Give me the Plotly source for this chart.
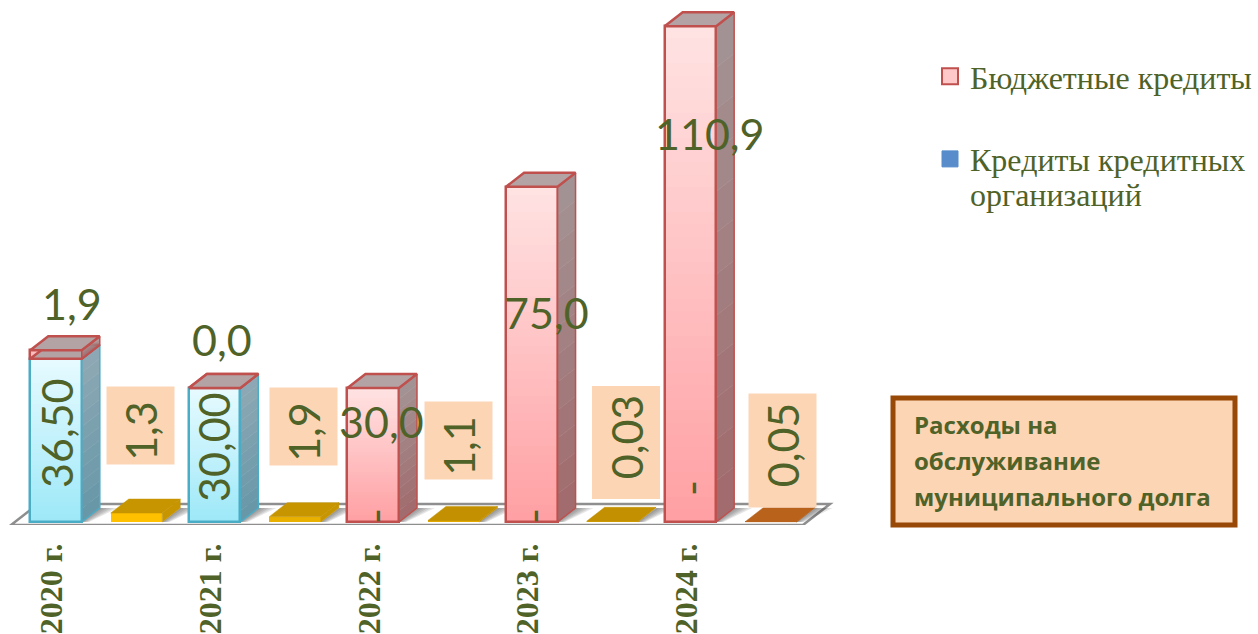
import plotly.graph_objects as go

# ---------- data ----------
years = ["2020 г.", "2021 г.", "2022 г.", "2023 г.", "2024 г."]
bank_credits = [36.5, 30.0, 0, 0, 0]
budget_credits = [1.9, 0.0, 30.0, 75.0, 110.9]
bank_labels = ["36,50", "30,00", "-", "-", "-"]
budget_labels = ["1,9", "0,0", "30,0", "75,0", "110,9"]
# debt service: heights as drawn in the picture, and the printed labels
service_drawn = [2.0, 1.2, 0.35, 0.15, 0.05]
service_labels = ["1,3", "1,9", "1,1", "0,03", "0,05"]

W, H = 1258, 634
PLOT_H = 525
X0, XS = 56.0, 158.6      # px of the first category, px per category
Y0, YS = 522.0, 4.47      # px of value 0, px per unit
BAR_W = 51.5 / XS
SVC_OFF = 80.5 / XS
DX, DY = 18 / XS, 14 / YS
TEXT = "#4f6228"
N = 40


def lerp(a, b, t):
    return "#%02x%02x%02x" % tuple(round(a[i] + (b[i] - a[i]) * t) for i in range(3))


def hx(s):
    return tuple(int(s[i:i + 2], 16) for i in (1, 3, 5))


def px(p):
    return p / W


def py(p):
    return 1 - p / PLOT_H


PINK = (hx("#ffe2e2"), hx("#ff9fa2"))
PINK_THIN = (hx("#ffc4c4"), hx("#ffb4b4"))
BLUE = (hx("#e6faff"), hx("#9ce8f8"))
PINK_SIDE = (hx("#a39495"), hx("#a26a6c"))
BLUE_SIDE = (hx("#8fa9b4"), hx("#6697a8"))
RED_LINE, BLUE_LINE = "#c0504d", "#4bacc6"

fig = go.Figure()
shapes = []

# floor with soft bar shadows
fx0, fx1 = (11 - X0) / XS, (803 - X0) / XS
fy = (Y0 - 525) / YS
fdx, fdy = 27 / XS, 21 / YS
shapes.append(dict(type="path", layer="below", xref="x", yref="y",
                   path=f"M{fx0},{fy} L{fx1},{fy} L{fx1 + fdx},{fy + fdy} L{fx0 + fdx},{fy + fdy} Z",
                   fillcolor="#ffffff", line=dict(color="#8e8e8e", width=2.5)))


def add_shadow(xr):
    for k in range(1, 6):
        s = k * 3.6 / XS
        shapes.append(dict(type="path", layer="below", xref="x", yref="y",
                           path=f"M{xr},0 L{xr + DX},{DY} L{xr + DX + s},{DY} L{xr + s * 0.4},0 Z",
                           fillcolor="rgba(60,60,60,0.13)", line=dict(width=0)))


def poly(xs, ys, fill, line=None, lw=0):
    fig.add_trace(go.Scatter(x=xs, y=ys, mode="lines", fill="toself", fillcolor=fill,
                             line=dict(color=line or fill, width=lw if line else 0.5),
                             showlegend=False, hoverinfo="skip"))


def box3d(xc, b0, b1, grad, side, edge, top_fill):
    """front gradient slices, outline, side gradient and top face for one block"""
    if b1 - b0 <= 0:
        return
    xl, xr = xc - BAR_W / 2, xc + BAR_W / 2
    slices_x, slices_y, slices_b, cols = [], [], [], []
    for k in range(N):
        t = k / N
        h = (b1 - b0) / N
        slices_x.append(xc)
        slices_y.append(h * 1.02)
        slices_b.append(b1 - h * (k + 1))
        cols.append(lerp(grad[0], grad[1], t))
    fig.add_trace(go.Bar(x=slices_x, y=slices_y, base=slices_b, width=BAR_W,
                         marker=dict(color=cols, line=dict(width=0)),
                         showlegend=False, hoverinfo="skip"))
    fig.add_trace(go.Bar(x=[xc], y=[b1 - b0], base=[b0], width=BAR_W,
                         marker=dict(color="rgba(0,0,0,0)", line=dict(color=edge, width=2.5)),
                         showlegend=False, hoverinfo="skip"))
    for k in range(12):
        a = b1 - (b1 - b0) * k / 12
        c = b1 - (b1 - b0) * (k + 1) / 12
        poly([xr, xr + DX, xr + DX, xr, xr], [a, a + DY, c + DY, c, a], lerp(side[0], side[1], (k + 0.5) / 12))
    poly([xr, xr + DX, xr + DX, xr, xr], [b1, b1 + DY, b0 + DY, b0, b1], "rgba(0,0,0,0)", edge, 1.5)
    poly([xl, xl + DX, xr + DX, xr, xl], [b1, b1 + DY, b1 + DY, b1, b1], top_fill, RED_LINE, 2.5)


for i in range(len(years)):
    add_shadow(i + BAR_W / 2)
    add_shadow(i + SVC_OFF + BAR_W / 2)
    box3d(i, 0, bank_credits[i], BLUE, BLUE_SIDE, BLUE_LINE, "#b3a3a5")
    box3d(i, bank_credits[i], bank_credits[i] + budget_credits[i],
          PINK_THIN if bank_credits[i] else PINK, PINK_SIDE, RED_LINE, "#b3a3a5")
    if bank_credits[i] and not budget_credits[i]:
        xl, xr = i - BAR_W / 2, i + BAR_W / 2
        t = bank_credits[i]
        poly([xl, xl + DX, xr + DX, xr, xl], [t, t + DY, t + DY, t, t], "#b3a3a5", RED_LINE, 2.5)

# debt-service plates
svc_front = ["#ffc000", "#e9b000", "#e0a800", "#dca400", "#c06a20"]
svc_top = ["#c79500", "#c79500", "#c29000", "#c29000", "#b8621c"]
for i, v in enumerate(service_drawn):
    xc = i + SVC_OFF
    xl, xr = xc - BAR_W / 2, xc + BAR_W / 2
    fig.add_trace(go.Bar(x=[xc], y=[v], base=[0], width=BAR_W,
                         marker=dict(color=svc_front[i], line=dict(width=0)),
                         showlegend=False, hoverinfo="skip"))
    poly([xr, xr + DX, xr + DX, xr, xr], [v, v + DY, DY, 0, v], svc_top[i])
    poly([xl, xl + DX, xr + DX, xr, xl], [v, v + DY, v + DY, v, v], svc_top[i])

# legend entries
fig.add_trace(go.Scatter(x=[None], y=[None], mode="markers", name="Бюджетные кредиты",
                         marker=dict(symbol="square", size=16, color="#ffc9c9",
                                     line=dict(color=RED_LINE, width=2)), legendgroup="a"))
fig.add_trace(go.Scatter(x=[None], y=[None], mode="markers", name="Кредиты кредитных",
                         marker=dict(symbol="square", size=16, color="#588ccb",
                                     line=dict(color="#588ccb", width=1)), legendgroup="b"))

# annotations
ann = []


def label(text, x, y, angle=0, **kw):
    ann.append(dict(text=text, x=px(x), y=py(y), xref="paper", yref="paper", showarrow=False,
                    xanchor="center", yanchor="middle", textangle=angle,
                    font=dict(family="Lato", size=43, color=TEXT), **kw))


for t, p in zip(budget_labels, [(72, 303), (222, 339), (382, 421), (546, 312), (710, 133)]):
    label(t, *p)
for t, p in zip(bank_labels, [(56, 433), (213, 447), (374, 516), (532, 516), (690, 488)]):
    label(t, *p, angle=-90)
for t, p, ln, pad in zip(service_labels,
                         [(140.5, 425.5), (303.5, 426.5), (458.5, 440.5), (625.5, 443), (782.5, 450.5)],
                         [77, 77, 77, 112, 113],
                         ["down", "down", "down", "up", "up"]):
    # the text reads upwards, so a leading space lifts it and a trailing one lowers it
    shown = "\u00a0" + t if pad == "up" else t + "\u00a0"
    label(shown, *p, angle=-90, bgcolor="#fcd5b5", width=ln, height=67, borderpad=0, align="center")

# second line of the legend entry "Кредиты кредитных / организаций"
ann.append(dict(text="организаций", x=px(968), y=py(195), xref="paper", yref="paper", showarrow=False,
                xanchor="left", yanchor="middle",
                font=dict(family="Liberation Serif", size=32, color=TEXT)))

shapes.append(dict(type="rect", xref="paper", yref="paper", x0=px(893), x1=px(1235), y0=py(525), y1=py(398),
                   fillcolor="#fcd5b5", line=dict(color="#984807", width=5)))
for t, y in zip(["Расходы на", "обслуживание", "муниципального долга"], [424, 460, 496]):
    ann.append(dict(text=f"<b>{t}</b>", x=px(912), y=py(y), xref="paper", yref="paper", showarrow=False,
                    xanchor="left", yanchor="middle",
                    font=dict(family="Open Sans", size=24, color=TEXT)))

fig.update_layout(
    width=W, height=H, margin=dict(l=0, r=0, t=0, b=H - PLOT_H, pad=0),
    paper_bgcolor="#ffffff", plot_bgcolor="rgba(0,0,0,0)",
    barmode="overlay", bargap=0, shapes=shapes, annotations=ann,
    xaxis=dict(range=[-X0 / XS, (W - X0) / XS], tickmode="array", automargin=False,
               tickvals=[i - 4 / XS for i in range(len(years))], ticktext=[f"<b>{y}</b>" for y in years],
               tickangle=-90, ticklen=0, ticklabelstandoff=11, showgrid=False, zeroline=False, showline=False,
               tickfont=dict(family="Liberation Serif", size=32, color=TEXT), fixedrange=True),
    yaxis=dict(range=[(Y0 - PLOT_H) / YS, Y0 / YS], visible=False, showgrid=False, zeroline=False,
               fixedrange=True, automargin=False),
    legend=dict(x=px(930), y=py(49), xanchor="left", yanchor="top", bgcolor="rgba(0,0,0,0)",
                font=dict(family="Liberation Serif", size=32, color=TEXT), tracegroupgap=38, itemwidth=30),
    showlegend=True,
)

fig.write_html("out.html", config={"displayModeBar": False},
               post_script="document.body.style.margin='0';document.body.style.overflow='hidden';")
